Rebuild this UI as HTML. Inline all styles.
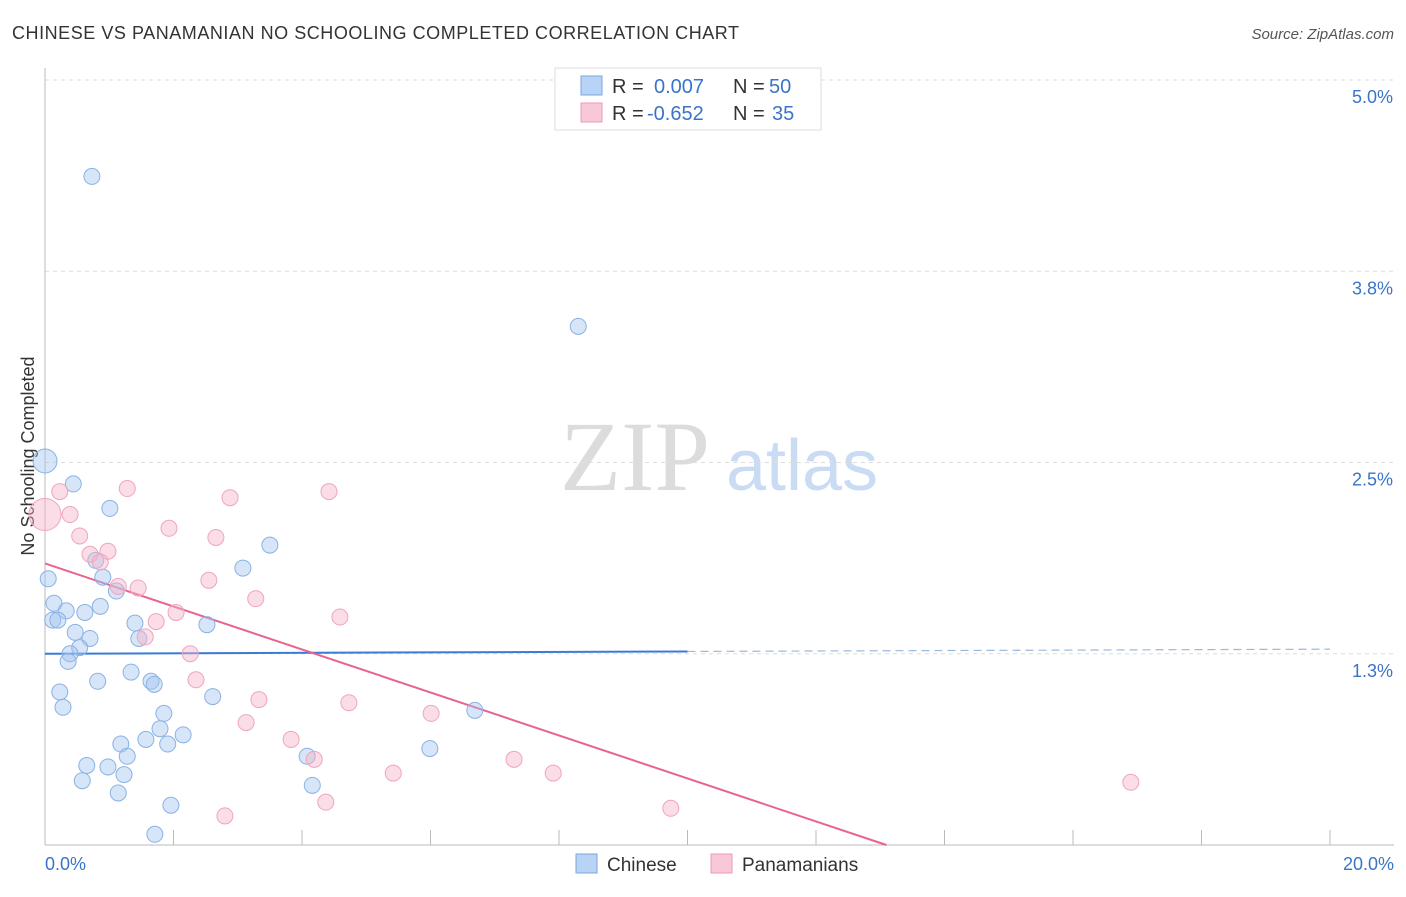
<!DOCTYPE html>
<html><head><meta charset="utf-8"><style>
body{margin:0;background:#fff;font-family:"Liberation Sans",sans-serif;}
svg text{font-family:"Liberation Sans",sans-serif;}
</style></head><body>
<svg id="chart" width="1406" height="892" xmlns="http://www.w3.org/2000/svg">
<text x="12" y="39" font-size="18" fill="#333" textLength="727">CHINESE VS PANAMANIAN NO SCHOOLING COMPLETED CORRELATION CHART</text>
<text x="1394" y="39" font-size="15" fill="#555" font-style="italic" text-anchor="end">Source: ZipAtlas.com</text>
<text transform="translate(34,456) rotate(-90)" font-size="18" fill="#333" text-anchor="middle">No Schooling Completed</text>
<g>
<text x="635" y="490" font-size="100" fill="#dcdcdc" style="font-family:'Liberation Serif',serif" text-anchor="middle">ZIP</text>
<text x="802" y="490" font-size="72" fill="#c9dcf3" text-anchor="middle">atlas</text>
</g>
<g id="grid"></g><g id="axes"></g><g id="trend"></g><g id="pts"></g>
<g>
<rect x="555" y="68" width="266" height="62" fill="#fff" stroke="#ddd"/>
<rect x="581" y="76" width="21" height="19" fill="#b8d3f5" stroke="#7aa7e0"/>
<rect x="581" y="103" width="21" height="19" fill="#f9c8d7" stroke="#ee9ab5"/>
<text x="612" y="93" font-size="20" fill="#333">R =</text>
<text x="654" y="93" font-size="20" fill="#3a74c9">0.007</text>
<text x="733" y="93" font-size="20" fill="#333">N =</text>
<text x="769" y="93" font-size="20" fill="#3a74c9">50</text>
<text x="612" y="120" font-size="20" fill="#333">R =</text>
<text x="647" y="120" font-size="20" fill="#3a74c9">-0.652</text>
<text x="733" y="120" font-size="20" fill="#333">N =</text>
<text x="772" y="120" font-size="20" fill="#3a74c9">35</text>
</g>
<g>
<rect x="576" y="854" width="21" height="19" fill="#b8d3f5" stroke="#7aa7e0"/>
<text x="607" y="871" font-size="19" fill="#333">Chinese</text>
<rect x="711" y="854" width="21" height="19" fill="#f9c8d7" stroke="#ee9ab5"/>
<text x="742" y="871" font-size="19" fill="#333">Panamanians</text>
</g>
</svg>
<script>
const chineseX=[0.73,8.30,0.0,0.44,1.01,3.50,3.08,0.05,0.90,0.79,1.11,0.14,0.33,0.86,0.62,0.12,0.20,0.47,0.70,1.40,1.46,2.52,0.54,0.39,0.36,1.34,0.82,1.65,1.70,2.61,0.23,0.28,1.85,6.69,1.79,1.18,1.57,1.91,2.15,5.99,1.28,4.08,0.65,0.98,1.23,0.58,4.16,1.14,1.96,1.71];
const chineseY=[4.37,3.39,2.51,2.36,2.20,1.96,1.81,1.74,1.75,1.86,1.66,1.58,1.53,1.56,1.52,1.47,1.47,1.39,1.35,1.45,1.35,1.44,1.29,1.25,1.20,1.13,1.07,1.07,1.05,0.97,1.00,0.90,0.86,0.88,0.76,0.66,0.69,0.66,0.72,0.63,0.58,0.58,0.52,0.51,0.46,0.42,0.39,0.34,0.26,0.07];
const panX=[0.0,0.23,0.39,1.28,2.88,4.42,1.93,0.54,0.98,0.70,0.86,2.66,1.14,1.45,2.55,3.28,2.04,4.59,1.73,1.56,2.26,2.35,3.33,4.73,3.13,6.01,3.83,4.19,7.30,5.42,7.91,16.90,9.74,4.37,2.80];
const panY=[2.16,2.31,2.16,2.33,2.27,2.31,2.07,2.02,1.92,1.90,1.85,2.01,1.69,1.68,1.73,1.61,1.52,1.49,1.46,1.36,1.25,1.08,0.95,0.93,0.80,0.86,0.69,0.56,0.56,0.47,0.47,0.41,0.24,0.28,0.19];
const yTicks=[5.0,3.75,2.5,1.25];
const yTickLabels=["5.0%","3.8%","2.5%","1.3%"];
const chineseTrend=[1.25,1.28];
const panTrend=[1.84,-0.1405];
const NS="http://www.w3.org/2000/svg";
const X=v=>45+v/20*1285, Y=v=>845-v/5*765;
function mk(t,a,p){const e=document.createElementNS(NS,t);for(const k in a)e.setAttribute(k,a[k]);document.getElementById(p).appendChild(e);return e;}
yTicks.forEach((t,i)=>{
 const g=mk('line',{x1:45,x2:1394,y1:Y(t),y2:Y(t),stroke:'#ddd','stroke-dasharray':'4,4'},'grid');
 
 
 const l=mk('text',{x:1393,y:Y(t)+23,'font-size':18,fill:'#3a74c9','text-anchor':'end'},'grid');
 l.textContent=yTickLabels[i];
 
 
});
const ax=mk('line',{x1:45,x2:1394,y1:845,y2:845,stroke:'#bbb'},'axes');


const ay=mk('line',{x1:45,x2:45,y1:68,y2:845,stroke:'#bbb'},'axes');


for(let i=0;i<=10;i++){const t=mk('line',{x1:X(i*2),x2:X(i*2),y1:830,y2:845,stroke:'#bbb'},'axes');
 
 }
const xl0=mk('text',{x:45,y:870,'font-size':18,fill:'#3a74c9'},'axes');xl0.textContent='0.0%';


const xl1=mk('text',{x:1394,y:870,'font-size':18,fill:'#3a74c9','text-anchor':'end'},'axes');xl1.textContent='20.0%';


const cy=x=>chineseTrend[0]+(chineseTrend[1]-chineseTrend[0])*x/20;
const t1=mk('line',{x1:X(0),y1:Y(cy(0)),x2:X(10),y2:Y(cy(10)),stroke:'#3a7bd5','stroke-width':2},'trend');


const t2=mk('line',{x1:X(10),y1:Y(cy(10)),x2:X(20),y2:Y(cy(20)),stroke:'#9bb8de','stroke-width':1.2,'stroke-dasharray':'8,5'},'trend');


const xz=-panTrend[0]/panTrend[1];
const t3=mk('line',{x1:X(0),y1:Y(panTrend[0]),x2:X(xz),y2:Y(0),stroke:'#e8648f','stroke-width':2},'trend');


chineseX.forEach((x,i)=>{const c=mk('circle',{cx:X(x),cy:Y(chineseY[i]),r:x===0?12:8,fill:'rgba(165,198,240,0.45)',stroke:'#8ab2e4','stroke-width':1},'pts');
 
 });
panX.forEach((x,i)=>{const c=mk('circle',{cx:X(x),cy:Y(panY[i]),r:x===0?16:8,fill:'rgba(245,180,200,0.45)',stroke:'#f0a5bd','stroke-width':1},'pts');
 
 });
</script>
</body></html>
